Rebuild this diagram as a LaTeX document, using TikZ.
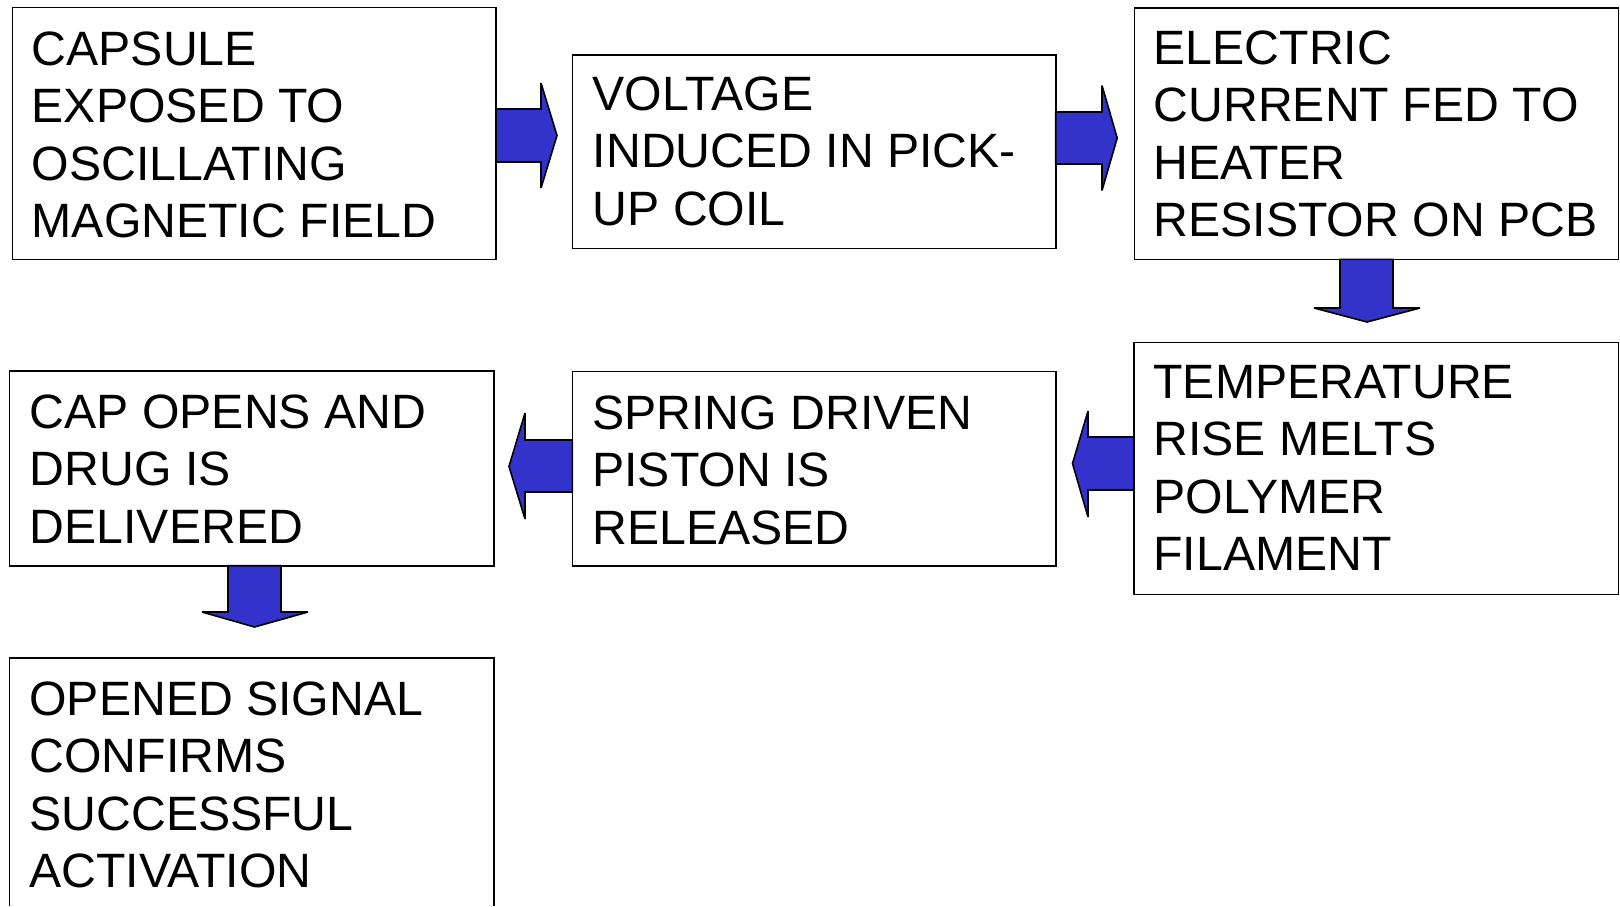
\documentclass[tikz,border=0pt]{standalone}
\usepackage{fontspec}
\setmainfont{Liberation Sans}
\definecolor{arrowblue}{RGB}{51,51,204}
\newcommand{\stk}[1]{\begin{tabular}[t]{@{}l@{}}#1\end{tabular}}
\begin{document}
\begin{tikzpicture}[x=1pt,y=-1pt,
  box/.style={draw, line width=1.6pt, rectangle, inner sep=0pt, outer sep=0pt, anchor=north west},
  txt/.style={font=\fontsize{48.2pt}{57.5pt}\selectfont, inner sep=0pt, anchor=base west},
  blk/.style={draw=black, fill=arrowblue, line width=1.6pt, line join=miter, miter limit=5}]
\useasboundingbox[fill=white] (0,0) rectangle (1620,906);

% boxes
\node[box, minimum width=483.7pt, minimum height=252pt]   (b1) at (12.3,7.3) {};
\node[box, minimum width=483.4pt, minimum height=193.3pt] (b2) at (572.3,55) {};
\node[box, minimum width=484pt,   minimum height=251.3pt] (b3) at (1134.3,8) {};
\node[box, minimum width=484.3pt, minimum height=252pt]   (b4) at (1134,342.3) {};
\node[box, minimum width=483.4pt, minimum height=194.2pt] (b5) at (572.3,371.5) {};
\node[box, minimum width=484.4pt, minimum height=194.7pt] (b6) at (9.3,371) {};
\node[box, draw=none, minimum width=484.4pt, minimum height=248pt] (b7) at (9.3,658) {};
\draw[line width=1.6pt] (b7.south west) -- (b7.north west) -- (b7.north east) -- (b7.south east);

% texts
\node[txt] (t1) at ([shift={(19.3,57.7)}]b1.north west) {\stk{CAPSULE\\EXPOSED TO\\OSCILLATING\\MAGNETIC FIELD}};
\node[txt] (t2) at ([shift={(20.3,55)}]b2.north west) {\stk{VOLTAGE\\INDUCED IN PICK-\\UP COIL}};
\node[txt] (t3) at ([shift={(19.2,56)}]b3.north west) {\stk{ELECTRIC\\CURRENT FED TO\\HEATER\\RESISTOR ON PCB}};
\node[txt] (t4) at ([shift={(19.3,56)}]b4.north west) {\stk{TEMPERATURE\\RISE MELTS\\POLYMER\\FILAMENT}};
\node[txt] (t5) at ([shift={(19.8,57.5)}]b5.north west) {\stk{SPRING DRIVEN\\PISTON IS\\RELEASED}};
\node[txt] (t6) at ([shift={(20.3,57.3)}]b6.north west) {\stk{CAP OPENS AND\\DRUG IS\\DELIVERED}};
\node[txt] (t7) at ([shift={(20,57)}]b7.north west) {\stk{OPENED SIGNAL\\CONFIRMS\\SUCCESSFUL\\ACTIVATION}};

% block arrows
\begin{scope}[shift={(b1.north east)}]
\draw[blk] (0,101.7) -- (45,101.7) -- (45,75.7) -- (61,128.2) -- (45,180.7) -- (45,154.7) -- (0,154.7) -- cycle;
\end{scope}
\begin{scope}[shift={(b2.north east)}]
\draw[blk] (0,57) -- (46.3,57) -- (46.3,30.5) -- (61.5,83) -- (46.3,135.5) -- (46.3,109) -- (0,109) -- cycle;
\end{scope}
\begin{scope}[shift={(b3.south west)}]
\draw[blk] (205.7,0) -- (205.7,48.7) -- (179.7,48.7) -- (232.7,62.7) -- (285.7,48.7) -- (258.7,48.7) -- (258.7,0) -- cycle;
\end{scope}
\begin{scope}[shift={(b4.north west)}]
\draw[blk] (0,94.7) -- (-46,94.7) -- (-46,68.7) -- (-61.5,121.2) -- (-46,174.7) -- (-46,147.7) -- (0,147.7) -- cycle;
\end{scope}
\begin{scope}[shift={(b5.north west)}]
\draw[blk] (0,68.5) -- (-47.3,68.5) -- (-47.3,41.5) -- (-63.3,95) -- (-47.3,147.5) -- (-47.3,120.5) -- (0,120.5) -- cycle;
\end{scope}
\begin{scope}[shift={(b6.south west)}]
\draw[blk] (218.7,0) -- (218.7,46.3) -- (192.7,46.3) -- (245.2,61.3) -- (298.7,46.3) -- (271.7,46.3) -- (271.7,0) -- cycle;
\end{scope}
\end{tikzpicture}
\end{document}
